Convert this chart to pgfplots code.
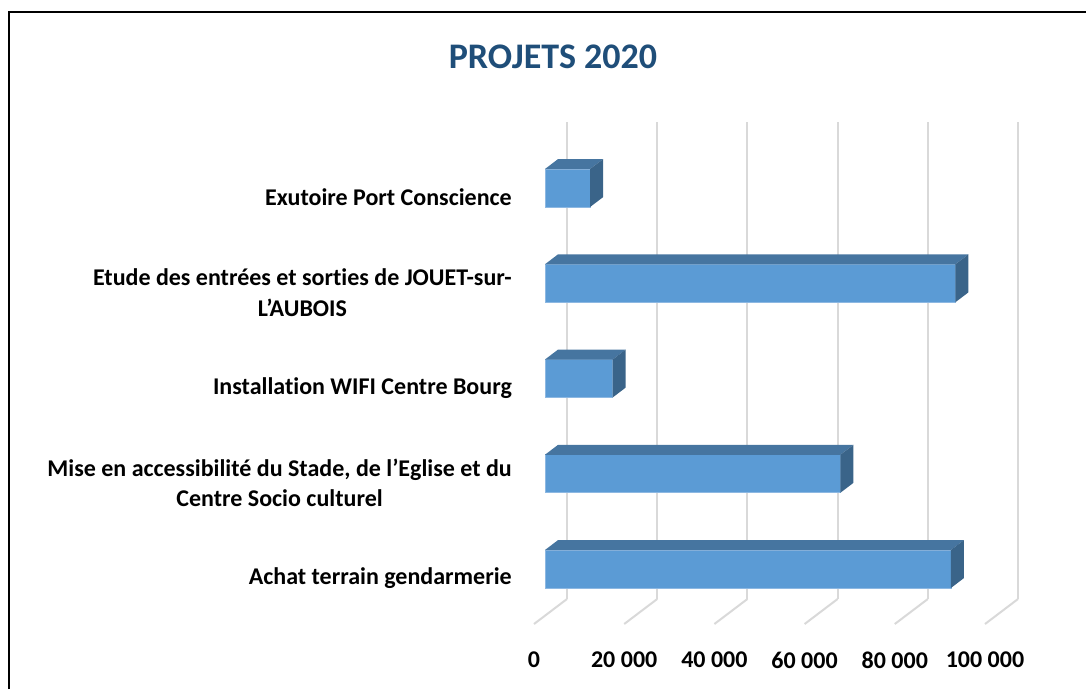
\documentclass[border=0pt]{standalone}
\usepackage{pgfplots}
\pgfplotsset{compat=1.18}
\usepackage{pgfplotstable}
\usepackage{fontspec}
\setmainfont{Carlito}[Ligatures=NoCommon]

\definecolor{barfront}{HTML}{5B9BD5}
\definecolor{baredge}{HTML}{8DB8E2}
\definecolor{bartop}{HTML}{4675A0}
\definecolor{barside}{HTML}{3A6489}
\definecolor{gridgray}{HTML}{D9D9D9}
\definecolor{titleblue}{HTML}{1F4E79}

% montants en milliers d'euros, c = rang de la categorie (0 = bas)
\pgfplotstableread{
c v
0 90
1 65.5
2 15
3 91
4 10
}\projets

\begin{document}
\begin{tikzpicture}[x=1pt,y=1pt]
\useasboundingbox (0,0) rectangle (1086,-689);
\draw[line width=2.2pt] (9,-689) -- (9,-12) -- (1086,-12);
\node[font=\fontsize{36}{43}\selectfont\bfseries, text=titleblue] at (553,-56.5) {PROJETS 2020};
\begin{axis}[
  at={(567pt,-599pt)}, anchor=south west,
  scale only axis, width=451pt, height=477pt,
  xmin=0, xmax=100, ymin=-0.4903, ymax=4.5176,
  clip=false,
  axis line style={draw=none}, tick style={draw=none},
  xmajorgrids, grid style={gridgray, line width=2pt},
  xtick={0,20,...,100},
  xticklabels={0,20 000,40 000,60 000,80 000,100 000},
  xticklabel style={font=\fontsize{24}{29}\selectfont\bfseries, anchor=center, xshift=-33pt, yshift=-61pt},
  ytick={0,...,4},
  yticklabels={Achat terrain gendarmerie,
    {Mise en accessibilité du Stade, de l’Eglise et du\\Centre Socio culturel},
    Installation WIFI Centre Bourg,
    {Etude des entrées et sorties de JOUET-sur-\\L’AUBOIS},
    Exutoire Port Conscience},
  yticklabel style={font=\fontsize{24}{30.5}\selectfont\bfseries, align=center, anchor=east, inner sep=0pt, xshift=-55pt, yshift=-26pt},
]
% lignes du sol
\pgfplotsinvokeforeach{0,20,40,60,80,100}{
  \draw[gridgray, line width=2pt] (axis cs:#1,-0.4903) -- ++(-33pt,-25pt);
}
% faces avant
\addplot[xbar, bar width=0.399, bar shift=0pt, fill=barfront, draw=baredge, line width=0.8pt,
  xshift=-22pt, yshift=-16.7pt] table[x=v, y=c] {\projets};
% dessus et cotes
\pgfplotsinvokeforeach{0,...,4}{
  \pgfplotstablegetelem{#1}{v}\of\projets
  \pgfmathsetmacro\vF{\pgfplotsretval-4.878}
  \pgfmathsetmacro\vB{\pgfplotsretval-1.996}
  \pgfmathsetmacro\yFt{#1+0.1995-0.1753}
  \pgfmathsetmacro\yBt{#1+0.1995-0.0714}
  \pgfmathsetmacro\yFb{#1-0.1995-0.1753}
  \pgfmathsetmacro\yBb{#1-0.1995-0.0714}
  \addplot[fill=bartop, draw=none] coordinates {(-4.878,\yFt) (\vF,\yFt) (\vB,\yBt) (-1.996,\yBt)} -- cycle;
  \addplot[fill=barside, draw=none] coordinates {(\vF,\yFb) (\vF,\yFt) (\vB,\yBt) (\vB,\yBb)} -- cycle;
}
\end{axis}
\end{tikzpicture}
\end{document}
